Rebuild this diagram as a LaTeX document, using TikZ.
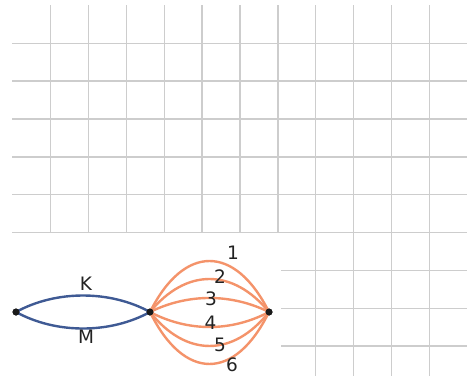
\documentclass[tikz,border=0pt]{standalone}
\usepackage{fontspec}
\setmainfont{DejaVu Sans}
\definecolor{gridgray}{HTML}{CDCDCD}
\definecolor{eblue}{HTML}{3F5A94}
\definecolor{eorange}{HTML}{F4936A}
\definecolor{dotcol}{HTML}{1A1A1A}
\definecolor{labcol}{HTML}{222222}
\tikzset{
  gridline/.style={draw=gridgray, line width=1.4pt},
  dot/.style={circle, fill=dotcol, inner sep=0pt, minimum size=7pt},
  blueedge/.style={draw=eblue, line width=2.4pt},
  orangeedge/.style={draw=eorange, line width=2.4pt},
  lab/.style={text=labcol, font=\fontsize{18.5}{22}\selectfont, inner sep=0pt}
}
\begin{document}
\begin{tikzpicture}[x=1pt, y=-1pt]
\useasboundingbox (0,0) rectangle (472,376);
% upper grid
\foreach \yy in {43.3,81.15,119,156.85,194.7,232.55}
  \draw[gridline] (12,\yy) -- (467,\yy);
\foreach \xx in {50.7,88.55,126.4,164.25,202.1,239.95,277.8}
  \draw[gridline] (\xx,5) -- (\xx,232.55);
\foreach \xx in {315.65,353.5,391.35,429.2}
  \draw[gridline] (\xx,5) -- (\xx,376);
% lower right grid
\foreach \yy in {270.4,308.25,346.1}
  \draw[gridline] (281,\yy) -- (467,\yy);
% nodes
\node[dot] (A) at (16,312) {};
\node[dot] (B) at (150,312) {};
\node[dot] (C) at (269,312) {};
% blue edges
\draw[blueedge] (A.center) .. controls +(40,-22) and +(-40,-22) .. (B.center);
\draw[blueedge] (A.center) .. controls +(40,22) and +(-40,22) .. (B.center);
% orange edges
\draw[orangeedge] (B.center) .. controls +(34,-68) and +(-34,-68) .. (C.center);
\draw[orangeedge] (B.center) .. controls +(36,-44) and +(-36,-44) .. (C.center);
\draw[orangeedge] (B.center) .. controls +(38,-18.7) and +(-38,-18.7) .. (C.center);
\draw[orangeedge] (B.center) .. controls +(38,20) and +(-38,20) .. (C.center);
\draw[orangeedge] (B.center) .. controls +(36,45.3) and +(-36,45.3) .. (C.center);
\draw[orangeedge] (B.center) .. controls +(34,69.3) and +(-34,69.3) .. (C.center);
% re-draw dots on top
\node[dot] at (A) {};
\node[dot] at (B) {};
\node[dot] at (C) {};
% labels
\node[lab] (lK) at (86,284) {K};
\node[lab] (lM) at (86,337) {M};
\node[lab] (l1) at (233,253) {1};
\node[lab] (l2) at (220,277) {2};
\node[lab] (l3) at (211,299) {3};
\node[lab] (l4) at (210.5,323) {4};
\node[lab] (l5) at (220,344.5) {5};
\node[lab] (l6) at (232,364.5) {6};
\end{tikzpicture}
\end{document}
